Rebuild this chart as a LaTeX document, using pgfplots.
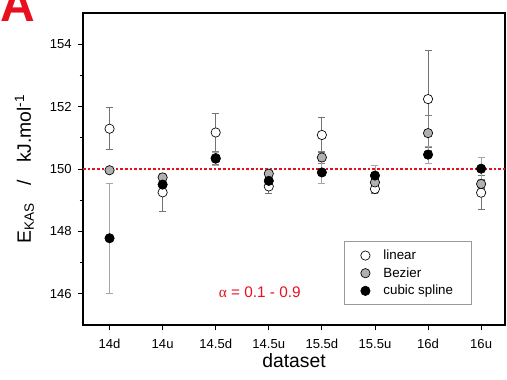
\documentclass[border=0pt]{standalone}
\usepackage{fontspec}
\setmainfont{Liberation Sans}
\newfontfamily\serifgreek{Liberation Serif}
\usepackage{pgfplots}
\usepackage{pgfplotstable}
\pgfplotsset{compat=1.18}
\definecolor{refred}{HTML}{E8101E}
\definecolor{bezgray}{HTML}{B0B0B0}
\pgfplotstableread{
x y e
0 151.29 0.67
1 149.25 0.60
2 151.17 0.62
3 149.44 0.22
4 151.09 0.57
5 149.36 0.15
6 152.24 1.55
7 149.24 0.54
}\linear
\pgfplotstableread{
x y e
0 149.96 0.10
1 149.73 0.13
2 150.35 0.20
3 149.85 0.15
4 150.37 0.20
5 149.57 0.15
6 151.15 0.56
7 149.52 0.15
}\bezier
\pgfplotstableread{
x y e
0 147.78 1.77
1 149.50 0.30
2 150.33 0.20
3 149.62 0.20
4 149.89 0.36
5 149.79 0.33
6 150.46 0.27
7 150.01 0.36
}\cubic
\begin{document}
\begin{tikzpicture}
\begin{axis}[
  name=ax,
  scale only axis,
  width=316.5pt, height=234pt,
  xmin=-0.5, xmax=7.45,
  ymin=145, ymax=155,
  xtick={0,...,7},
  xticklabels={14d,14u,14.5d,14.5u,15.5d,15.5u,16d,16u},
  ytick={146,148,150,152,154},
  minor ytick={147,149,151,153},
  tick align=outside,
  xtick pos=bottom, ytick pos=left,
  major tick length=4pt, minor tick length=2.5pt,
  tick style={black, line width=0.6pt},
  axis line style={line width=0.8pt},
  /pgf/number format/assume math mode=true,
  ticklabel style={font=\fontsize{9.8}{11}\selectfont},
  xticklabel style={yshift=-3pt},
  yticklabel style={xshift=-1pt},
  xlabel={dataset},
  xlabel style={font=\fontsize{14.5}{16}\selectfont, yshift=3pt},
  ylabel={E\textsubscript{KAS}\hspace{0.9em}/\hspace{0.9em}kJ.mol\textsuperscript{-1}},
  ylabel style={font=\fontsize{14.5}{16}\selectfont, yshift=5pt},
  legend style={at={(rel axis cs:0.922,0.064)}, anchor=south east,
    draw=gray!80, line width=0.5pt, font=\fontsize{10}{12}\selectfont,
    inner xsep=12pt, inner ysep=4pt, row sep=0.5pt,
    /tikz/every odd column/.append style={column sep=8pt}},
  legend cell align=left,
  clip=false,
]
\addplot[refred, line width=0.8pt, dash pattern=on 2pt off 1.5pt, forget plot] coordinates {(-0.5,150) (7.45,150)};
\addplot[only marks, mark=*, mark size=3.5pt, mark options={draw=black, fill=white, line width=0.5pt},
  error bars/.cd, y dir=both, y explicit,
  error bar style={color=gray!90!black, line width=0.6pt},
  error mark options={rotate=90, mark size=2.6pt, color=gray!90!black, line width=0.6pt}]
  table[x=x, y=y, y error=e] {\linear};
\addlegendentry{linear}
\addplot[only marks, mark=*, mark size=3.5pt, mark options={draw=black, fill=bezgray, line width=0.5pt},
  error bars/.cd, y dir=both, y explicit,
  error bar style={color=gray, line width=0.6pt},
  error mark options={rotate=90, mark size=2.6pt, color=gray, line width=0.6pt}]
  table[x=x, y=y, y error=e] {\bezier};
\addlegendentry{Bezier}
\addplot[only marks, mark=*, mark size=3.5pt, mark options={draw=black, fill=black, line width=0.5pt},
  error bars/.cd, y dir=both, y explicit,
  error bar style={color=gray!70, line width=0.6pt},
  error mark options={rotate=90, mark size=2.6pt, color=gray!70, line width=0.6pt}]
  table[x=x, y=y, y error=e] {\cubic};
\addlegendentry{cubic spline}
\node[text=refred, font=\fontsize{11.5}{13}\selectfont] at (axis cs:2.83,146.04) {{\serifgreek α} = 0.1 - 0.9};
\end{axis}
\node[anchor=base west, inner sep=0pt, text=refred, font=\fontsize{36}{36}\selectfont\bfseries] at ([xshift=-62.25pt, yshift=-6.75pt]ax.north west) {A};
\pgfresetboundingbox
\path[use as bounding box] ([xshift=-62.25pt, yshift=-41.25pt]ax.south west) rectangle ([xshift=1.5pt, yshift=9.75pt]ax.north east);
\end{tikzpicture}
\end{document}
